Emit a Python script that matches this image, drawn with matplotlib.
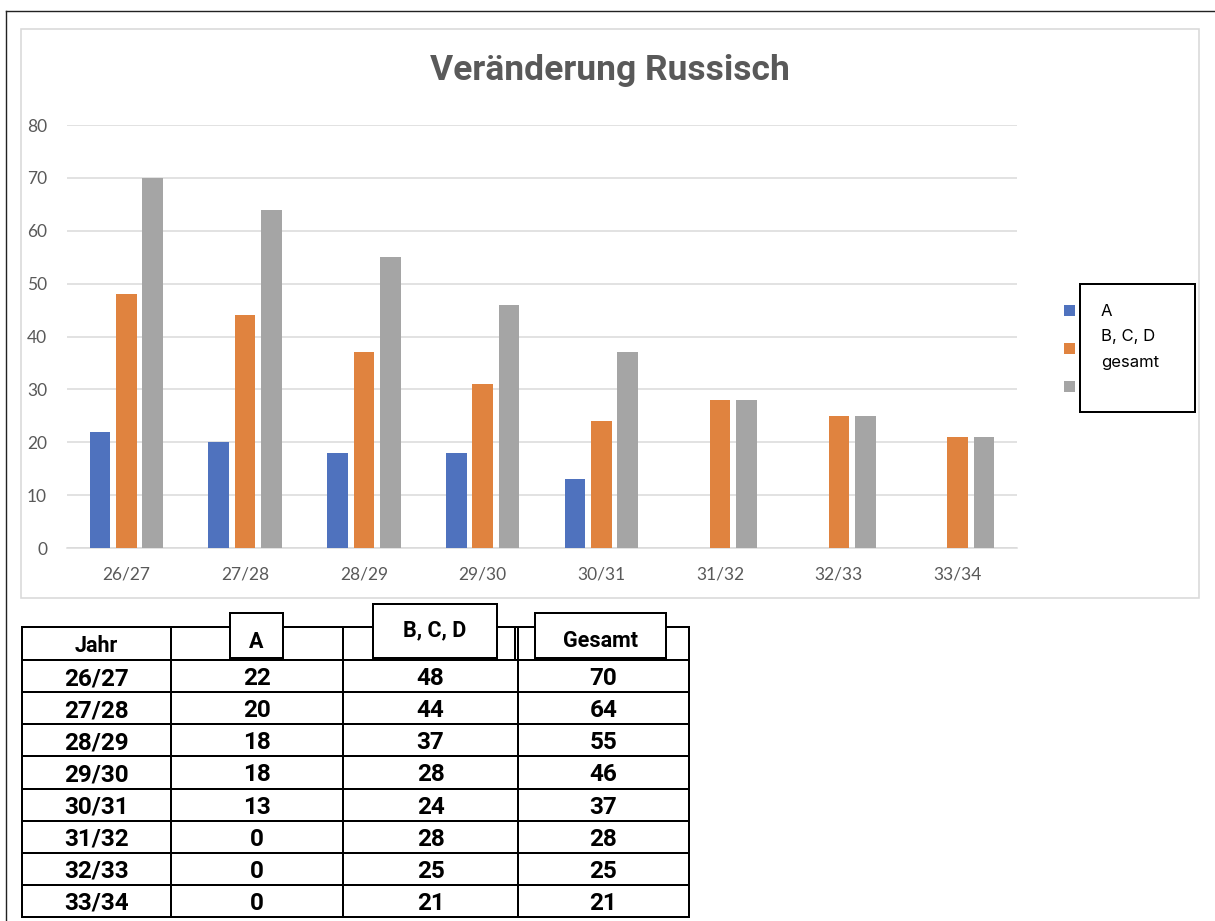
import matplotlib
matplotlib.use("Agg")
import matplotlib.pyplot as plt
from matplotlib.patches import Rectangle
import numpy as np

# chart data
years = ["26/27", "27/28", "28/29", "29/30", "30/31", "31/32", "32/33", "33/34"]
series_names = ["A", "B, C, D", "gesamt"]
vals_a = [22, 20, 18, 18, 13, 0, 0, 0]
vals_bcd = [48, 44, 37, 31, 24, 28, 25, 21]
vals_total = [70, 64, 55, 46, 37, 28, 25, 21]

# table below the chart (29/30 says 28 there)
table_header = ["Jahr", "A", "B, C, D", "Gesamt"]
table_a = [22, 20, 18, 18, 13, 0, 0, 0]
table_bcd = [48, 44, 37, 28, 24, 28, 25, 21]
table_total = [70, 64, 55, 46, 37, 28, 25, 21]

colors = ["#4f72be", "#e0833f", "#a5a5a5"]
W, H = 1215, 921

plt.rcParams['font.family'] = ['Lato', 'DejaVu Sans']
bold_font = ['Roboto', 'DejaVu Sans']


def px(v):
    # pixels -> points at dpi 100
    return v * 0.72


fig = plt.figure(figsize=(W / 100, H / 100), dpi=100)

ax = fig.add_axes([67 / W, 1 - 548 / H, 950 / W, 423 / H])
x = np.arange(len(years))
step, bw = 0.222, 0.173
for i, vals in enumerate([vals_a, vals_bcd, vals_total]):
    ax.bar(x + (i - 1) * step, vals, bw, color=colors[i], linewidth=0, zorder=3)
ax.set_xlim(-0.5, 7.5)
ax.set_ylim(0, 80)
ax.set_yticks(range(0, 81, 10))
ax.set_xticks(x, years)
ax.grid(axis='y', color='#d9d9d9', lw=px(1.5), zorder=0)
for s in ['top', 'right', 'left']:
    ax.spines[s].set_visible(False)
ax.spines['bottom'].set_color('#d9d9d9')
ax.spines['bottom'].set_linewidth(px(1.5))
ax.tick_params(length=0, labelsize=12.5, labelcolor='#595959')
ax.tick_params(axis='y', pad=px(20))
ax.tick_params(axis='x', pad=px(18))

# overlay in pixel coords for frames, legend and table
ov = fig.add_axes([0, 0, 1, 1])
ov.set_xlim(0, W)
ov.set_ylim(H, 0)
ov.axis('off')
ov.patch.set_alpha(0)

# outer black border and grey chart frame
ov.plot([6, W], [11, 11], color='#222222', lw=px(1.4))
ov.plot([6, 6], [11, H], color='#222222', lw=px(1.4))
ov.add_patch(Rectangle((21, 29), 1178, 569, fill=False, ec='#d9d9d9', lw=px(1.6)))

fig.text(610 / W, 1 - 80 / H, "Veränderung Russisch", ha='center', va='baseline',
         fontsize=25.5, fontweight='bold', family=bold_font, color='#595959')

# legend: markers sit outside the box, labels inside
for i, name in enumerate(series_names):
    yc = 310.7 + i * 38
    ov.add_patch(Rectangle((1063.5, yc - 5.7), 11.4, 11.4, color=colors[i], lw=0))
    ov.text(1101, 316 + i * 25.3, name, ha='left', va='baseline',
            fontsize=12, family=['Inter', 'DejaVu Sans'], color='black')
ov.add_patch(Rectangle((1080, 284), 115, 128, fill=False, ec='black', lw=px(2)))

# table
cols = [22, 171, 343, 518, 689]
top, head_bot, bot = 627, 660, 917
row_h = (bot - head_bot) / len(years)
lw_t = px(2)
ov.plot([cols[0], cols[-1]], [top, top], color='black', lw=lw_t)
for k in range(len(years) + 1):
    yy = head_bot + k * row_h
    ov.plot([cols[0], cols[-1]], [yy, yy], color='black', lw=lw_t)
for c in cols:
    ov.plot([c, c], [top, bot], color='black', lw=lw_t)
ov.plot([514.5, 514.5], [top, head_bot], color='black', lw=lw_t)

# header boxes pasted over the first row
boxes = [(230, 613, 53, 45), (373, 604, 124, 54), (535, 613, 131, 45)]
for bx, by, bwid, bht in boxes:
    ov.add_patch(Rectangle((bx, by), bwid, bht, fc='white', ec='black', lw=lw_t, zorder=5))

head_pos = [(96.5, 652), (256.5, 647.7), (435, 636.7), (600.5, 646.7)]
for (hx, hy), lab in zip(head_pos, table_header):
    ov.text(hx, hy, lab, ha='center', va='baseline', fontsize=15.5,
            fontweight='bold', family=bold_font, zorder=6)

for r, row in enumerate(zip(years, table_a, table_bcd, table_total)):
    base = head_bot + r * row_h + 25
    for c, val in enumerate(row):
        cx = (cols[c] + cols[c + 1]) / 2
        ov.text(cx, base, str(val), ha='center', va='baseline', fontsize=17.5,
                fontweight='bold', family=bold_font)

fig.savefig("out.png", dpi=100)
